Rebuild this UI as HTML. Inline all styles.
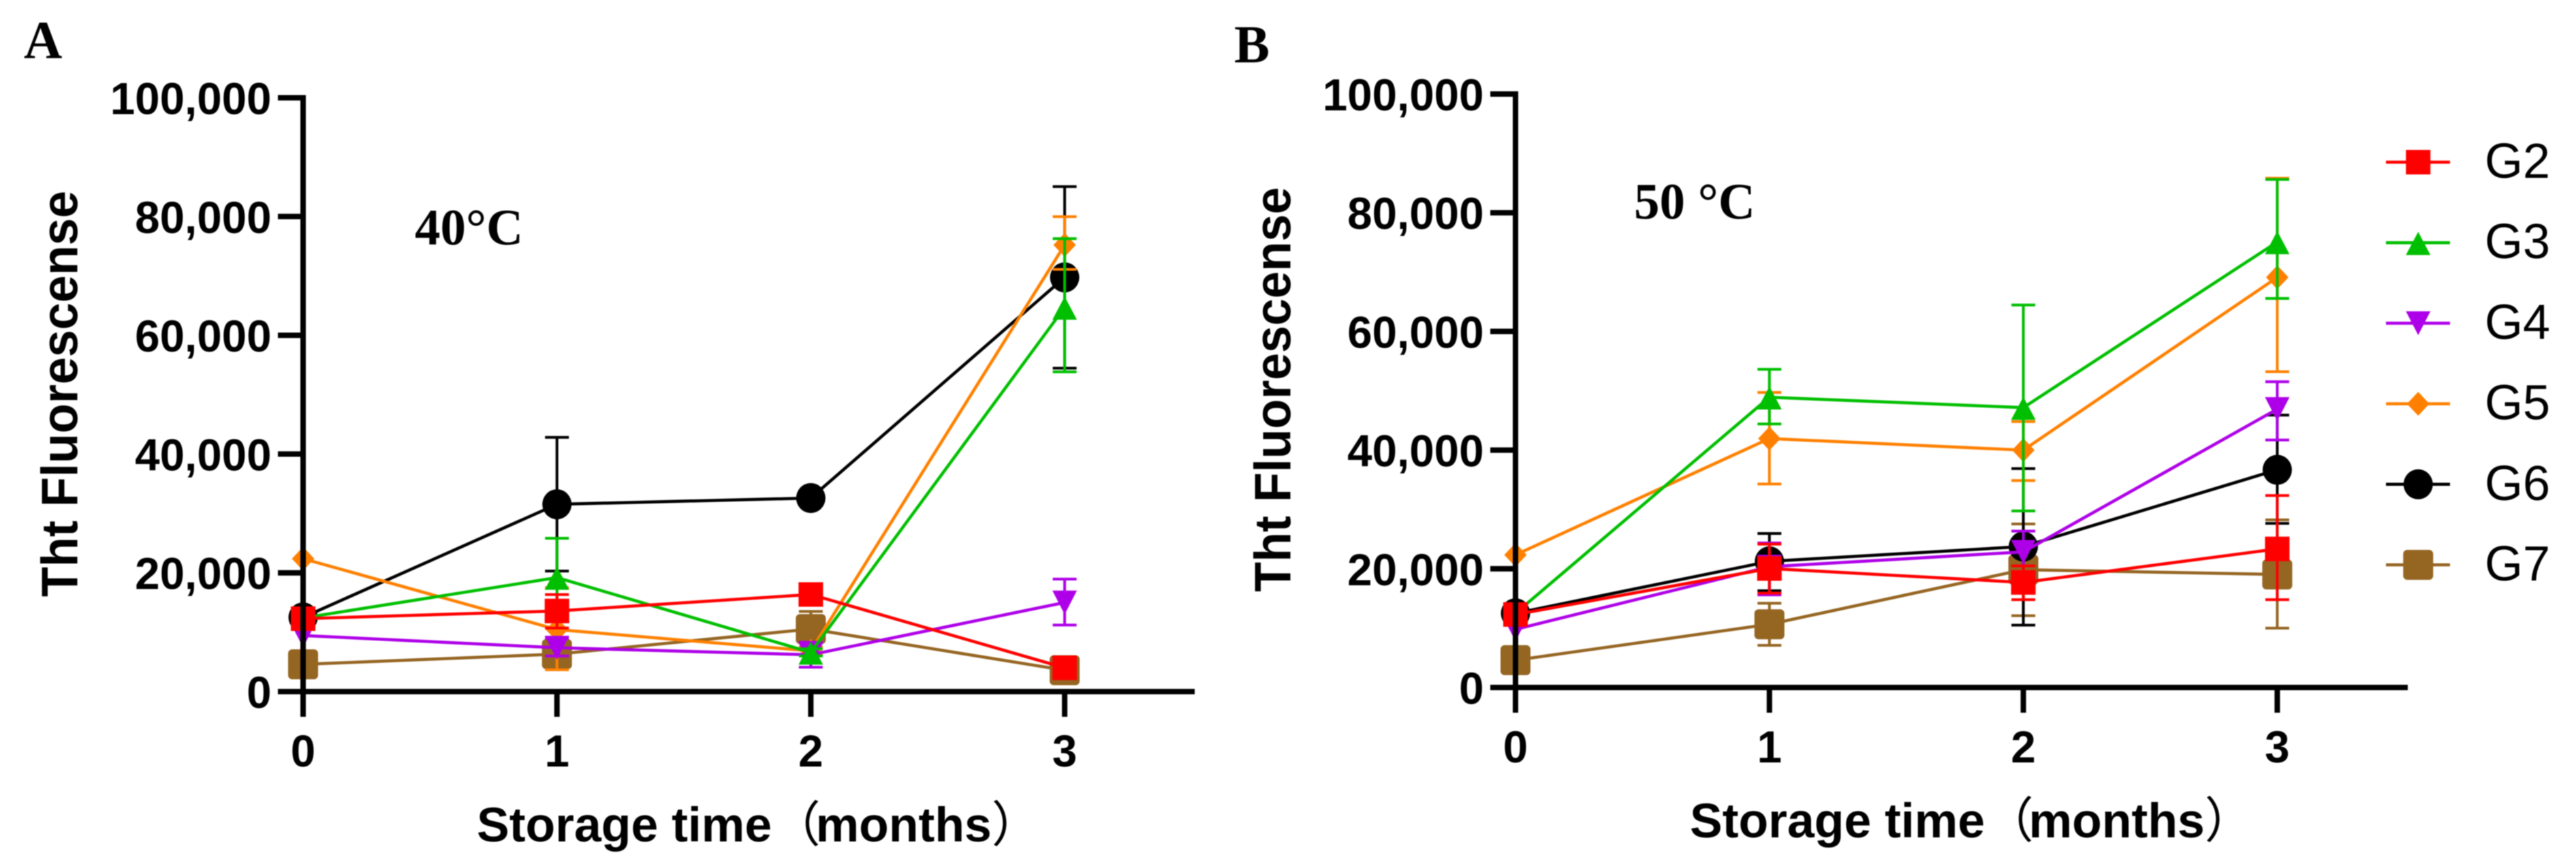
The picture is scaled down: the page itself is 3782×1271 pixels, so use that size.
<!DOCTYPE html>
<html lang="en">
<head>
<meta charset="utf-8">
<title>ThT fluorescence during storage at 40 and 50 °C</title>
<style>
html,body{margin:0;padding:0;background:#fff;}
body{width:3782px;height:1271px;overflow:hidden;}
svg{display:block;filter:blur(0.7px);}
</style>
</head>
<body>
<svg id="figure" xmlns="http://www.w3.org/2000/svg" width="3782" height="1271" viewBox="0 0 3782 1271"></svg>
<script>
// ---------- shared data ----------
const months = [0, 1, 2, 3];
const yTickValues = [0, 20000, 40000, 60000, 80000, 100000];
const seriesNames = ['G2', 'G3', 'G4', 'G5', 'G6', 'G7'];

// ---------- Panel A (40 °C) ----------
const a_mean_G2 = [12280, 13575, 16350, 4000];
const a_up_G2   = [null, 16330, 17850, 4800];
const a_low_G2  = [null, 10700, 14850, 3200];
const a_mean_G3 = [12400, 19200, 6600, 64690];
const a_up_G3   = [null, 25820, 7200, 76270];
const a_low_G3  = [null, 12500, 6000, 53850];
const a_mean_G4 = [9440, 7380, 6200, 15000];
const a_up_G4   = [null, 9000, 8300, 18950];
const a_low_G4  = [null, 6000, 4100, 11200];
const a_mean_G5 = [22375, 10440, 6850, 75220];
const a_up_G5   = [null, 17500, 7500, 79980];
const a_low_G5  = [null, 3670, 6200, 71100];
const a_mean_G6 = [12500, 31540, 32590, 69750];
const a_up_G6   = [null, 42820, 33100, 85040];
const a_low_G6  = [null, 20300, 32100, 54460];
const a_mean_G7 = [4590, 6310, 10530, 3600];
const a_up_G7   = [null, 8000, 13500, 4400];
const a_low_G7  = [null, 4400, 7500, 2800];

// ---------- Panel B (50 °C) ----------
const b_mean_G2 = [12300, 20050, 17700, 23350];
const b_up_G2   = [null, 24150, 20500, 32350];
const b_low_G2  = [null, 15900, 14800, 14800];
const b_mean_G3 = [12500, 48910, 47160, 75070];
const b_up_G3   = [null, 53620, 64450, 85600];
const b_low_G3  = [null, 44400, 29750, 65550];
const b_mean_G4 = [9800, 20350, 22850, 46910];
const b_up_G4   = [null, 24350, 26350, 51520];
const b_low_G4  = [null, 15600, 19300, 41700];
const b_mean_G5 = [22350, 41950, 39990, 69110];
const b_up_G5   = [null, 49710, 44800, 85800];
const b_low_G5  = [null, 34280, 34880, 53220];
const b_mean_G6 = [12500, 21250, 23750, 36680];
const b_up_G6   = [null, 25950, 36880, 45900];
const b_low_G6  = [null, 16300, 10500, 27650];
const b_mean_G7 = [4600, 10650, 19850, 19050];
const b_up_G7   = [null, 14200, 27550, 28250];
const b_low_G7  = [null, 7100, 12100, 10000];

const panelAData = {
  G2: [a_mean_G2, a_up_G2, a_low_G2], G3: [a_mean_G3, a_up_G3, a_low_G3],
  G4: [a_mean_G4, a_up_G4, a_low_G4], G5: [a_mean_G5, a_up_G5, a_low_G5],
  G6: [a_mean_G6, a_up_G6, a_low_G6], G7: [a_mean_G7, a_up_G7, a_low_G7]
};
const panelBData = {
  G2: [b_mean_G2, b_up_G2, b_low_G2], G3: [b_mean_G3, b_up_G3, b_low_G3],
  G4: [b_mean_G4, b_up_G4, b_low_G4], G5: [b_mean_G5, b_up_G5, b_low_G5],
  G6: [b_mean_G6, b_up_G6, b_low_G6], G7: [b_mean_G7, b_up_G7, b_low_G7]
};

// ---------- styling ----------
const seriesColor = {G2:'#ff0000', G3:'#00bf00', G4:'#ae00e8', G5:'#ff8000', G6:'#000000', G7:'#956522'};
const seriesShape = {G2:'square', G3:'up', G4:'down', G5:'diamond', G6:'circle', G7:'rounded'};

const NS = 'http://www.w3.org/2000/svg';
const root = document.getElementById('figure');
const SANS = '"Liberation Sans", Arial, sans-serif';
const SERIF = '"Liberation Serif", "Times New Roman", serif';

function make(parent, tag, attrs, text) {
  const node = document.createElementNS(NS, tag);
  for (const k in attrs) node.setAttribute(k, attrs[k]);
  if (text !== undefined) node.textContent = text;
  parent.appendChild(node);
  return node;
}

function drawMarker(parent, shape, cx, cy, color) {
  let el;
  if (shape === 'square') {
    el = make(parent, 'rect', {x: cx - 18, y: cy - 18, width: 36, height: 36, fill: color});
  } else if (shape === 'rounded') {
    el = make(parent, 'rect', {x: cx - 22, y: cy - 22, width: 44, height: 44, rx: 6, ry: 6, fill: color});
  } else if (shape === 'circle') {
    el = make(parent, 'ellipse', {cx: cx, cy: cy, rx: 21.5, ry: 22, fill: color});
  } else if (shape === 'up') {
    el = make(parent, 'path', {d: 'M' + cx + ' ' + (cy - 16) + 'L' + (cx + 18) + ' ' + (cy + 18) + 'L' + (cx - 18) + ' ' + (cy + 18) + 'Z', fill: color});
  } else if (shape === 'down') {
    el = make(parent, 'path', {d: 'M' + cx + ' ' + (cy + 17.5) + 'L' + (cx + 18) + ' ' + (cy - 17.5) + 'L' + (cx - 18) + ' ' + (cy - 17.5) + 'Z', fill: color});
  } else {
    el = make(parent, 'path', {d: 'M' + cx + ' ' + (cy - 17.5) + 'L' + (cx + 16.5) + ' ' + cy + 'L' + cx + ' ' + (cy + 17.5) + 'L' + (cx - 16.5) + ' ' + cy + 'Z', fill: color});
  }
  return el;
}

function drawPanel(cfg) {
  const g = make(root, 'g', {});
  
  

  const xScale = function (m) { return cfg.x0 + m * cfg.xStep; };
  const yScale = function (v) { return cfg.y0 - v * cfg.yPerUnit; };

  // series first-to-last reversed so G2 ends on top
  const order = seriesNames.slice().reverse();
  order.forEach(function (name) {
    const color = seriesColor[name];
    const mean = cfg.data[name][0], up = cfg.data[name][1], low = cfg.data[name][2];
    const sg = make(g, 'g', {});
    
    

    const pts = months.map(function (m, i) { return xScale(m) + ',' + yScale(mean[i]); }).join(' ');
    const line = make(sg, 'polyline', {points: pts, fill: 'none', stroke: color, 'stroke-width': 4.5, 'stroke-linejoin': 'round'});
    
    

    months.forEach(function (m, i) {
      const px = xScale(m);
      if (up[i] !== null) {
        const eb = make(sg, 'path', {
          d: 'M' + (px - 17.5) + ' ' + yScale(up[i]) + 'H' + (px + 17.5) +
             'M' + px + ' ' + yScale(up[i]) + 'V' + yScale(low[i]) +
             'M' + (px - 17.5) + ' ' + yScale(low[i]) + 'H' + (px + 17.5),
          fill: 'none', stroke: color, 'stroke-width': 4
        });
        
        
      }
      const mk = drawMarker(sg, seriesShape[name], px, yScale(mean[i]), color);
      
      
    });
  });

  // axes
  const yAxis = make(g, 'line', {x1: cfg.x0, x2: cfg.x0, y1: yScale(100000) - 4, y2: cfg.y0 + 37, stroke: '#000', 'stroke-width': 8});
  
  

  const xAxis = make(g, 'line', {x1: cfg.x0 - 37, x2: cfg.xEnd, y1: cfg.y0, y2: cfg.y0, stroke: '#000', 'stroke-width': 8});
  
  

  yTickValues.forEach(function (v) {
    const yy = yScale(v);
    const tick = make(g, 'line', {x1: cfg.x0 - 37, x2: cfg.x0, y1: yy, y2: yy, stroke: '#000', 'stroke-width': 8});
    
    
    const label = make(g, 'text', {x: cfg.x0 - 46.5, y: yy + 24, 'text-anchor': 'end', 'font-family': SANS, 'font-weight': 700, 'font-size': 65.5}, v.toLocaleString('en-US'));
    
    
  });

  months.forEach(function (m) {
    const px = xScale(m);
    const tick = make(g, 'line', {x1: px, x2: px, y1: cfg.y0, y2: cfg.y0 + 37, stroke: '#000', 'stroke-width': 8});
    
    
    const label = make(g, 'text', {x: px, y: cfg.y0 + 110, 'text-anchor': 'middle', 'font-family': SANS, 'font-weight': 700, 'font-size': 65.5}, String(m));
    
    
  });

  // titles
  const yt = make(g, 'text', {
    transform: 'translate(' + cfg.yTitleX + ' ' + cfg.yTitleY + ') rotate(-90)',
    'font-family': SANS, 'font-weight': 700, 'font-size': 75, textLength: cfg.yTitleLen, lengthAdjust: 'spacingAndGlyphs'
  }, 'Tht Fluorescense');
  
  

  const xt = make(g, 'text', {x: cfg.xTitleX, y: cfg.xTitleY, 'font-family': SANS + ', "Noto Sans CJK SC"', 'font-weight': 700, 'font-size': 71.5});
  
  
  make(xt, 'tspan', {}, 'Storage time');
  make(xt, 'tspan', {'font-family': '"Noto Sans CJK SC", sans-serif', 'font-weight': 400}, '（');
  make(xt, 'tspan', {dx: -7}, 'months');
  make(xt, 'tspan', {'font-family': '"Noto Sans CJK SC", sans-serif', 'font-weight': 400}, '）');

  const letter = make(g, 'text', {x: cfg.letterX, y: cfg.letterY, 'font-family': SERIF, 'font-weight': 700, 'font-size': 78}, cfg.letter);
  
  

  const temp = make(g, 'text', {x: cfg.tempX, y: cfg.tempY, 'font-family': SERIF, 'font-weight': 700, 'font-size': 75}, cfg.temp);
  
  
}

drawPanel({
  key: 'panel-a', letter: 'A', temp: '40°C', data: panelAData,
  x0: 445, xStep: 372.7, xEnd: 1754, y0: 1015, yPerUnit: 0.008715,
  yTitleX: 113.3, yTitleY: 876, yTitleLen: 596,
  xTitleX: 700, xTitleY: 1235,
  letterX: 35, letterY: 85, tempX: 609, tempY: 359
});

drawPanel({
  key: 'panel-b', letter: 'B', temp: '50 °C', data: panelBData,
  x0: 2225, xStep: 372.8, xEnd: 3535, y0: 1009, yPerUnit: 0.00871,
  yTitleX: 1894.5, yTitleY: 868.6, yTitleLen: 594,
  xTitleX: 2481, xTitleY: 1229,
  letterX: 1812, letterY: 91.5, tempX: 2399, tempY: 321
});

// ---------- legend ----------
const legend = make(root, 'g', {});



seriesNames.forEach(function (name, i) {
  const cy = 238 + i * 118.2;
  const row = make(legend, 'g', {});
  
  
  const swatch = make(row, 'line', {x1: 3503, x2: 3597, y1: cy, y2: cy, stroke: seriesColor[name], 'stroke-width': 4.5});
  
  
  const mk = drawMarker(row, seriesShape[name], 3550.3, cy, seriesColor[name]);
  
  
  const label = make(row, 'text', {x: 3648, y: cy + 23, 'font-family': SANS, 'font-size': 72}, name);
  
  
});
</script>
</body>
</html>
